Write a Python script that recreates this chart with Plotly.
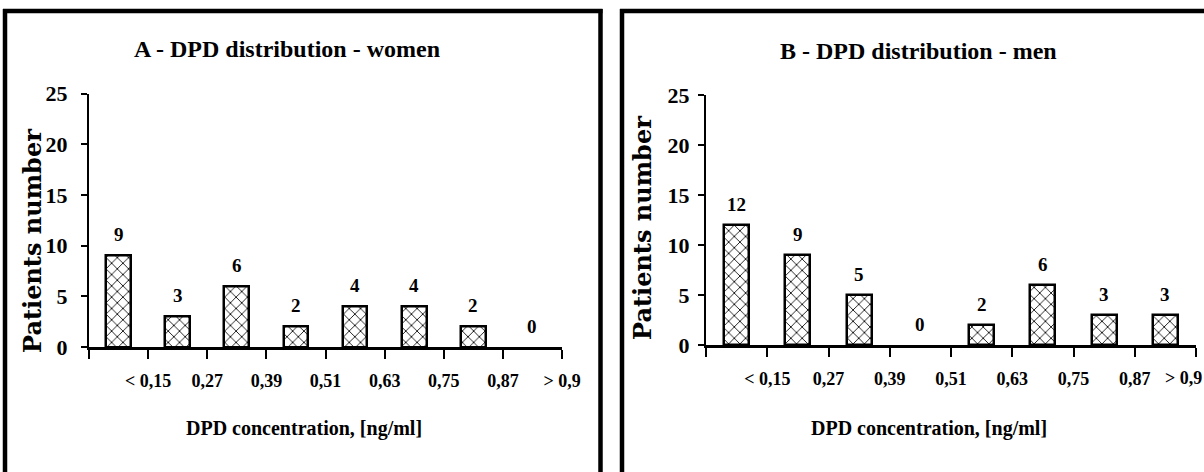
import plotly.graph_objects as go

# DPD concentration classes (labels sit on the class boundaries)
tick_labels = ["", "< 0,15", "0,27", "0,39", "0,51", "0,63", "0,75", "0,87", "> 0,9"]

# Patients per concentration class
women_counts = [9, 3, 6, 2, 4, 4, 2, 0]
men_counts = [12, 9, 5, 0, 2, 6, 3, 3]

titles = ["A - DPD distribution - women", "B - DPD distribution - men"]
x_title = "DPD concentration, [ng/ml]"
y_title = "Patients number"

W, H = 1204, 472
SERIF = "Liberation Serif"
WIDE_SERIF = "DejaVu Serif"


def px_x(p):
    return p / W


def px_y(p):
    return 1 - p / H


fig = go.Figure()

centers = [i + 0.5 for i in range(len(women_counts))]
panels = [
    dict(counts=women_counts, xa="x", ya="y", bw=0.42),
    dict(counts=men_counts, xa="x2", ya="y2", bw=0.41),
]

for p in panels:
    # empty classes get no outline so no flat bar shows on the axis
    outline = [2.5 if v > 0 else 0 for v in p["counts"]]
    fig.add_trace(go.Bar(
        x=centers, y=p["counts"], width=p["bw"],
        xaxis=p["xa"], yaxis=p["ya"],
        marker=dict(
            color="white",
            line=dict(color="black", width=outline),
            pattern=dict(shape="x", size=8, solidity=0.2,
                         fgcolor="black", bgcolor="white"),
        ),
        showlegend=False, hoverinfo="skip",
    ))
    for xc, v in zip(centers, p["counts"]):
        fig.add_annotation(
            x=xc, y=v, xref=p["xa"], yref=p["ya"], text=str(v),
            showarrow=False, yanchor="middle", yshift=21,
            font=dict(family=SERIF, size=19, color="black", weight="bold"),
        )

TICK_FONT = dict(family=SERIF, size=18, color="black", weight="bold")

axis_common = dict(
    range=[0, 8], tickmode="array", tickvals=list(range(9)),
    showline=True, linecolor="black", linewidth=3, ticks="outside", ticklen=9,
    tickwidth=2, tickcolor="black", showgrid=False, zeroline=False,
    automargin=False, fixedrange=True, ticklabelstandoff=6,
    tickfont=TICK_FONT,
)
yaxis_common = dict(
    range=[0, 25], tickvals=[0, 5, 10, 15, 20, 25],
    showline=True, linecolor="black", linewidth=2, ticks="outside", ticklen=6,
    tickwidth=2, tickcolor="black", showgrid=False, zeroline=False,
    automargin=False, fixedrange=True,
    tickfont=dict(family=SERIF, size=22, color="black", weight="bold"),
)

# the right panel's last class label runs to the page edge, so it is
# placed as a right-aligned note at the axis end instead of a tick label
fig.update_layout(
    width=W, height=H,
    margin=dict(l=0, r=0, t=0, b=0),
    paper_bgcolor="white", plot_bgcolor="white",
    template="none",
    bargap=0,
    xaxis=dict(domain=[px_x(89), px_x(562)], anchor="y",
               ticktext=tick_labels, **axis_common),
    yaxis=dict(domain=[px_y(347), px_y(93.5)], anchor="x",
               ticklabelstandoff=9, **yaxis_common),
    xaxis2=dict(domain=[px_x(706), px_x(1196)], anchor="y2",
                ticktext=tick_labels[:-1] + [""], **axis_common),
    yaxis2=dict(domain=[px_y(345), px_y(95)], anchor="x2",
                ticklabelstandoff=4, **yaxis_common),
)
fig.add_annotation(
    x=8, y=0, xref="x2", yref="y2", text=tick_labels[-1],
    showarrow=False, xanchor="right", yanchor="top", xshift=8, yshift=-21,
    font=TICK_FONT,
)

# Panel titles, axis titles
text_items = [
    (titles[0], 287, 49, 0, SERIF, 24),
    (titles[1], 918, 51, 0, SERIF, 24),
    (x_title, 304, 428, 0, SERIF, 20),
    (x_title, 929, 428, 0, SERIF, 20),
    (y_title, 32, 241, -90, WIDE_SERIF, 24),
    (y_title, 642, 228, -90, WIDE_SERIF, 24),
]
for txt, cx, cy, ang, fam, sz in text_items:
    fig.add_annotation(
        x=px_x(cx), y=px_y(cy), xref="paper", yref="paper", text=txt,
        showarrow=False, textangle=ang, xanchor="center", yanchor="middle",
        font=dict(family=fam, size=sz, color="black", weight="bold"),
    )

# Frames around each panel
frame = dict(type="line", xref="paper", yref="paper",
             line=dict(color="black", width=4.5))
fig.add_shape(x0=px_x(5), x1=px_x(5), y0=px_y(9), y1=px_y(480), **frame)
fig.add_shape(x0=px_x(3), x1=px_x(602.5), y0=px_y(11), y1=px_y(11), **frame)
fig.add_shape(x0=px_x(600.5), x1=px_x(600.5), y0=px_y(9), y1=px_y(480), **frame)
fig.add_shape(x0=px_x(622), x1=px_x(622), y0=px_y(9), y1=px_y(480), **frame)
fig.add_shape(x0=px_x(620), x1=px_x(1210), y0=px_y(11), y1=px_y(11), **frame)

fig.write_html("out.html")
